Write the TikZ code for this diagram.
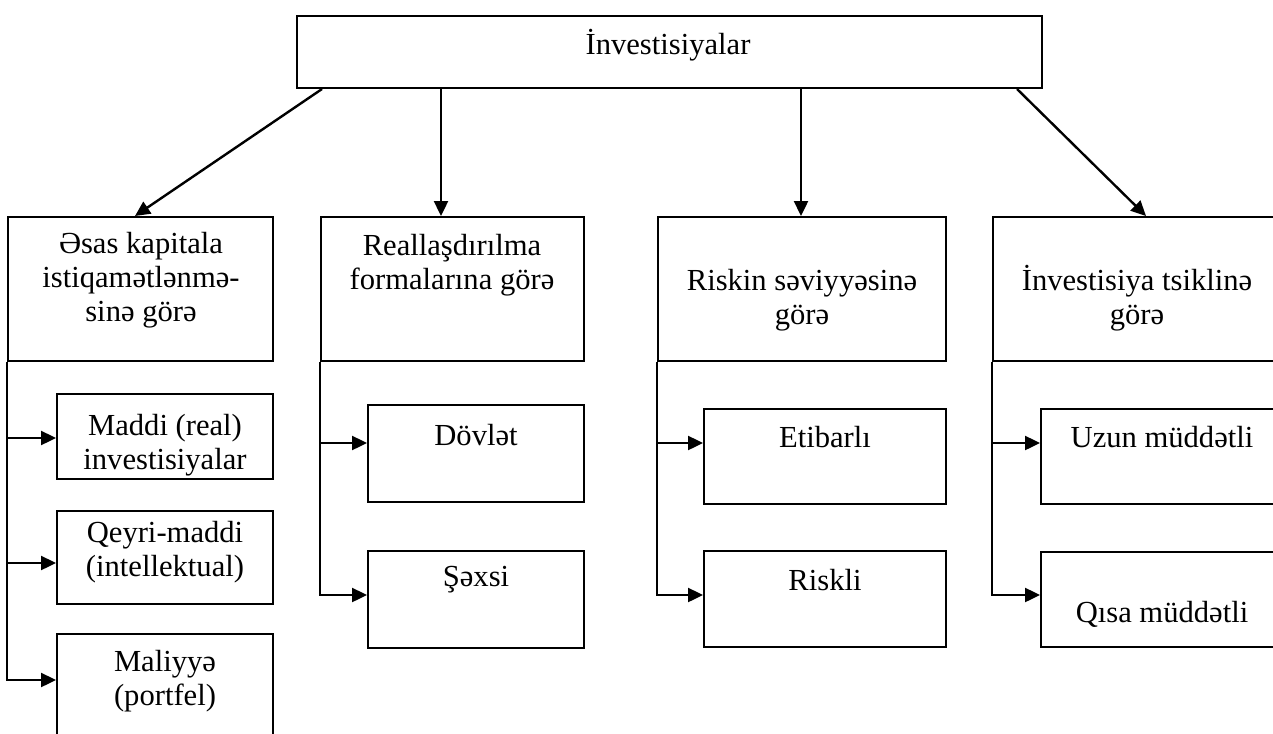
\documentclass[tikz,border=0pt]{standalone}
\usepackage{fontspec}
\setmainfont{Liberation Serif}
\usetikzlibrary{fit,arrows.meta}
\begin{document}
\begin{tikzpicture}[x=0.5pt,y=-0.5pt,
  box/.style={draw,line width=1pt,inner sep=0pt},
  txt/.style={align=center,font=\fontsize{15.3}{17}\selectfont,inner sep=0pt},
  arr/.style={line width=1.2pt,-{Triangle[length=7.5pt,width=7pt]}},
  ln/.style={line width=1.2pt}]
\useasboundingbox (0,0) rectangle (1273,733);
\clip (0,0) rectangle (1273,733);
% top
\node[box,fit={(297,16)(1042,88)}] (top) {};
\node[txt] (ttop) at (668,45) {İnvestisiyalar};
% level 2
\node[box,fit={(8,217)(273,361)}] (b1) {};
\node[box,fit={(321,217)(584,361)}] (b2) {};
\node[box,fit={(658,217)(946,361)}] (b3) {};
\node[box,fit={(993,217)(1281,361)}] (b4) {};
\node[txt] (t1) at (141,280) {Əsas kapitala\\istiqamətlənmə-\\sinə görə};
\node[txt] (t2) at (452,265) {Reallaşdırılma\\formalarına görə};
\node[txt] (t3) at (802,300) {Riskin səviyyəsinə\\görə};
\node[txt] (t4) at (1137,298) {İnvestisiya tsiklinə\\görə};
% arrows from top
\coordinate (s1) at (322,0); \coordinate (e1) at (135,0);
\coordinate (v2) at (441,0); \coordinate (v3) at (801,0);
\coordinate (s4) at (1017,0); \coordinate (e4) at (1146,0);
\draw[arr] (top.south -| s1) -- (b1.north -| e1);
\draw[arr] (top.south -| v2) -- (b2.north -| v2);
\draw[arr] (top.south -| v3) -- (b3.north -| v3);
\draw[arr] (top.south -| s4) -- (b4.north -| e4);
% level 3 boxes
\node[box,fit={(57,394)(273,479)}] (c11) {};
\node[box,fit={(57,511)(273,604)}] (c12) {};
\node[box,fit={(57,634)(273,760)}] (c13) {};
\node[box,fit={(368,405)(584,502)}] (c21) {};
\node[box,fit={(368,551)(584,648)}] (c22) {};
\node[box,fit={(704,409)(946,504)}] (c31) {};
\node[box,fit={(704,551)(946,647)}] (c32) {};
\node[box,fit={(1041,409)(1283,504)}] (c41) {};
\node[box,fit={(1041,552)(1283,647)}] (c42) {};
\node[txt] (u11) at (165,445) {Maddi (real)\\investisiyalar};
\node[txt] (u12) at (165,552) {Qeyri-maddi\\(intellektual)};
\node[txt] (u13) at (165,681) {Maliyyə\\(portfel)};
\node[txt] (u21) at (476,435) {Dövlət};
\node[txt] (u22) at (476,580) {Şəxsi};
\node[txt] (u31) at (825,437) {Etibarlı};
\node[txt] (u32) at (825,580) {Riskli};
\node[txt] (u41) at (1162,437) {Uzun müddətli};
\node[txt] (u42) at (1162,614) {Qısa müddətli};
% branch arrows
\coordinate (y11) at (0,438); \coordinate (y12) at (0,563); \coordinate (y13) at (0,680);
\coordinate (ya) at (0,443); \coordinate (yb) at (0,595);
\draw[arr] (b1.south west) |- (c13.west |- y13);
\draw[arr] (b1.south west |- y11) -- (c11.west |- y11);
\draw[arr] (b1.south west |- y12) -- (c12.west |- y12);
\draw[arr] (b2.south west) |- (c22.west |- yb);
\draw[arr] (b2.south west |- ya) -- (c21.west |- ya);
\draw[arr] (b3.south west) |- (c32.west |- yb);
\draw[arr] (b3.south west |- ya) -- (c31.west |- ya);
\draw[arr] (b4.south west) |- (c42.west |- yb);
\draw[arr] (b4.south west |- ya) -- (c41.west |- ya);
\end{tikzpicture}
\end{document}
